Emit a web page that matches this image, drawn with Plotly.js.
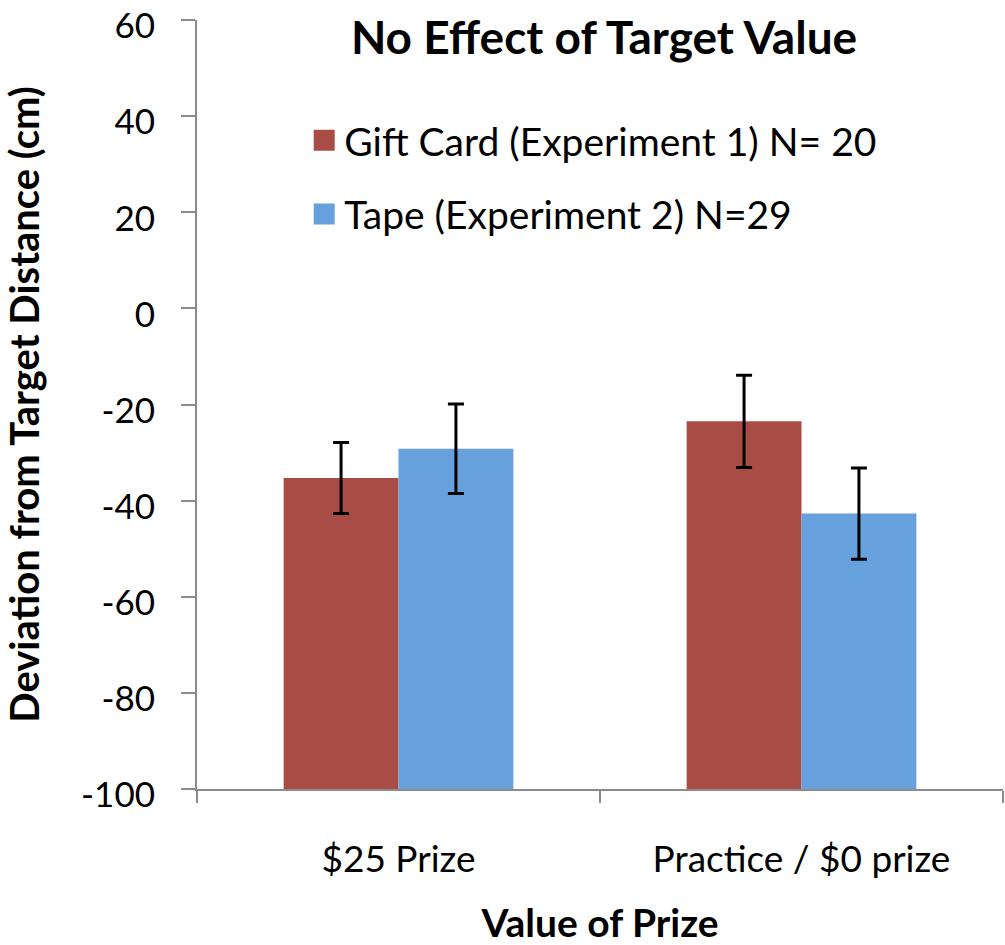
<!DOCTYPE html>
<html><head><meta charset="utf-8">
<script src="https://cdn.plot.ly/plotly-3.0.1.min.js"></script>
<style>html,body{margin:0;padding:0;background:#fff}</style>
</head><body><div id="chart" style="width:1005px;height:945px"></div>
<script>
const categories = ['$25 Prize', 'Practice / $0 prize'];
const giftCardName = 'Gift Card (Experiment 1) N= 20';
const giftCardMeans = [-35.3, -23.5];
const giftCardErrors = [7.4, 9.6];
const tapeName = 'Tape (Experiment 2) N=29';
const tapeMeans = [-29.2, -42.7];
const tapeErrors = [9.3, 9.5];
const yTickValues = [-100, -80, -60, -40, -20, 0, 20, 40, 60];
const yTickLabels = ['-100', '-80', '-60', '-40', '-20', '0', '20', '40', '60'];
const axisFloor = -100;
const axisCeil = 60;

const FONT = 'Lato, "Open Sans", sans-serif';
const RED = '#A84C45';
const BLUE = '#66A1DE';

function barTrace(name, means, errs, color, group) {
  return {
    type: 'bar', name: name, x: categories,
    base: axisFloor,
    y: means.map(v => v - axisFloor),
    marker: {color: color, line: {width: 0}},
    legendgroup: group, showlegend: false,
    error_y: {type: 'data', array: errs, visible: true, color: '#000', thickness: 3, width: 8},
    hoverinfo: 'skip'
  };
}
// legend-only entries (larger square swatches)
function legendTrace(name, color, group) {
  return {
    type: 'scatter', mode: 'markers', name: name, x: [categories[0]], y: [null],
    marker: {symbol: 'square', size: 16, color: color, line: {width: 5, color: color}},
    legendgroup: group, showlegend: true, hoverinfo: 'skip'
  };
}

const data = [
  barTrace(giftCardName, giftCardMeans, giftCardErrors, RED, 'g1'),
  barTrace(tapeName, tapeMeans, tapeErrors, BLUE, 'g2'),
  legendTrace(giftCardName, RED, 'g1'),
  legendTrace(tapeName, BLUE, 'g2')
];

const layout = {
  width: 1005, height: 945,
  margin: {l: 197, r: 2, t: 20, b: 156},
  paper_bgcolor: '#fff', plot_bgcolor: '#fff',
  font: {family: FONT, color: '#000'},
  title: {text: '<b>No Effect of Target Value</b>', font: {size: 46, family: FONT}, x: 0.505, xref: 'paper', y: 1 - 38/945, yref: 'container', yanchor: 'middle'},
  barmode: 'group', bargap: 0.43, bargroupgap: 0,
  showlegend: true,
  legend: {x: 0.133, y: 0.885, xanchor: 'left', yanchor: 'top', font: {size: 39, family: FONT}, tracegroupgap: 20, bgcolor: 'rgba(0,0,0,0)', itemwidth: 30, traceorder: 'grouped'},
  xaxis: {
    type: 'category', showline: true, linecolor: '#8c8c8c', linewidth: 2,
    ticks: 'outside', tickson: 'boundaries', ticklen: 12, tickwidth: 2, tickcolor: '#8c8c8c',
    tickfont: {size: 37, family: FONT}, ticklabelstandoff: 37,
    showgrid: false, zeroline: false,
    title: {text: '<b>Value of Prize</b>', font: {size: 39, family: FONT}, standoff: 30}
  },
  yaxis: {
    range: [axisFloor - 0.001, axisCeil + 0.001], tickvals: yTickValues, ticktext: yTickLabels,
    ticklabeloverflow: 'allow', ticklabelshift: 6,
    showline: true, linecolor: '#8c8c8c', linewidth: 2,
    ticks: 'outside', ticklen: 14, tickwidth: 2, tickcolor: '#8c8c8c',
    tickfont: {size: 35, family: FONT}, ticklabelstandoff: 19,
    showgrid: false, zeroline: false,
    title: {text: '<b>Deviation from Target Distance (cm)</b>', font: {size: 40, family: FONT}, standoff: 37}
  }
};

Plotly.newPlot('chart', data, layout, {displayModeBar: false, staticPlot: true});
</script></body></html>
